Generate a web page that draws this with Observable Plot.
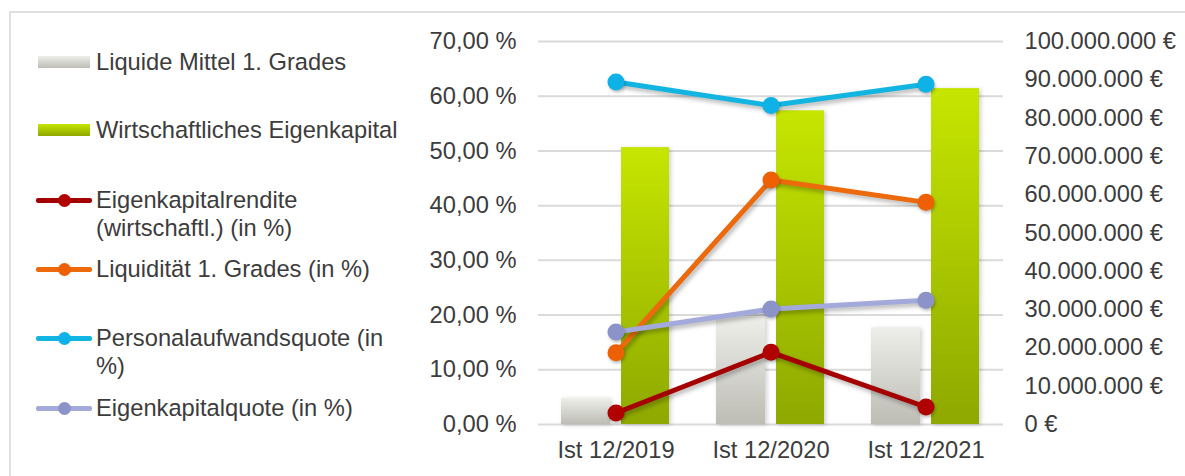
<!DOCTYPE html>
<html><head><meta charset="utf-8">
<script src="https://cdn.jsdelivr.net/npm/d3@7"></script>
<script src="https://cdn.jsdelivr.net/npm/@observablehq/plot@0.6"></script>
<style>
body{margin:0;background:#fff;}
#wrap{position:relative;width:1185px;height:476px;overflow:hidden;font-family:"Liberation Sans",Arial,sans-serif;}
#frame{position:absolute;left:9px;top:11px;width:1300px;height:600px;border-left:2px solid #e0e0e0;border-top:2px solid #e0e0e0;}
#chart{position:absolute;left:0;top:0;}
.item{position:absolute;left:96px;width:310px;font-size:23.7px;line-height:28px;color:#3c3c3c;}
.sw{position:absolute;}
svg g[aria-label="line"] path{filter:drop-shadow(2px 3px 2px rgba(0,0,0,0.28));}
svg g[aria-label="dot"] circle{filter:drop-shadow(1px 2px 1.5px rgba(0,0,0,0.25));}
svg g[aria-label="bar"] rect{filter:drop-shadow(2px 1px 2px rgba(0,0,0,0.18));}
</style></head>
<body><div id="wrap"><div id="frame"></div><div id="chart"></div><div id="legend"></div></div>
<script>
// ---- data ----
const categories = ["Ist 12/2019", "Ist 12/2020", "Ist 12/2021"];
const barSeries = ["Liquide Mittel 1. Grades", "Wirtschaftliches Eigenkapital"];
const liquideMittel = [6800000, 28000000, 25200000];
const wirtschEigenkapital = [72300000, 81900000, 87700000];
const lineSeries = ["Eigenkapitalrendite (wirtschaftl.) (in %)", "Liquidität 1. Grades (in %)", "Personalaufwandsquote (in %)", "Eigenkapitalquote (in %)"];
const ekRendite = [2.1, 13.2, 3.2];
const liquiditaet = [13.1, 44.7, 40.6];
const personalQuote = [62.6, 58.3, 62.2];
const ekQuote = [16.9, 21.1, 22.7];
const pctTicks = [0, 10, 20, 30, 40, 50, 60, 70];
const eurTicks = [0, 10000000, 20000000, 30000000, 40000000, 50000000, 60000000, 70000000, 80000000, 90000000, 100000000];

// ---- styles ----
const lineColors = ["#a50000", "#ec6a0c", "#12b4e2", "#a3a9db"];
const dotColors = ["#b00000", "#ee6004", "#0fb2e6", "#8c93c9"];
const pctMax = 70, eurMax = 100000000;
const toPct = v => v * pctMax / eurMax;
const FS = 23.7;

const loc = d3.formatLocale({decimal: ",", thousands: ".", grouping: [3], currency: ["", " €"]});
const fPct = d => loc.format(",.2f")(d) + " %";
const fEur = d => loc.format(",.0f")(Math.round(d * eurMax / pctMax)) + " €";

const barRows = s => categories.map((c, i) => ({cat: c, v: toPct(s[i])}));
const lineRows = s => categories.map((c, i) => ({cat: c, v: s[i]}));
const lineData = [ekRendite, liquiditaet, personalQuote, ekQuote];

const marks = [
  Plot.gridY(pctTicks, {stroke: "#dadada", strokeOpacity: 1, strokeWidth: 2}),
  Plot.barY(barRows(liquideMittel), {x: "cat", y: "v", fill: "url(#gGrey)", insetLeft: 23, insetRight: 83}),
  Plot.barY(barRows(wirtschEigenkapital), {x: "cat", y: "v", fill: "url(#gGreen)", insetLeft: 83, insetRight: 24}),
];
lineData.forEach((s, k) => {
  marks.push(Plot.line(lineRows(s), {x: "cat", y: "v", stroke: lineColors[k], strokeWidth: 5}));
  marks.push(Plot.dot(lineRows(s), {x: "cat", y: "v", r: 8.5, fill: dotColors[k], stroke: "none"}));
});
marks.push(
  Plot.axisY(pctTicks, {anchor: "left", tickSize: 0, tickPadding: 22, tickFormat: fPct, fontSize: FS, label: null}),
  Plot.axisY(eurTicks.map(toPct), {anchor: "right", tickSize: 0, tickPadding: 21, tickFormat: fEur, fontSize: FS, label: null}),
  Plot.axisX(categories, {tickSize: 0, tickPadding: 17, fontSize: FS, label: null})
);

const chart = Plot.plot({
  width: 1185, height: 476,
  marginLeft: 538, marginRight: 182, marginTop: 41, marginBottom: 52,
  style: {fontFamily: '"Liberation Sans", Arial, sans-serif', fontSize: FS + "px", color: "#3c3c3c", background: "transparent", overflow: "visible"},
  x: {type: "band", domain: categories, padding: 0, label: null, axis: null},
  y: {domain: [0, pctMax], label: null, axis: null},
  marks
});

const defs = d3.select(chart).insert("defs", ":first-child");
const g1 = defs.append("linearGradient").attr("id", "gGreen").attr("x1", 0).attr("y1", 0).attr("x2", 0).attr("y2", 1);
g1.append("stop").attr("offset", "0%").attr("stop-color", "#c6e600");
g1.append("stop").attr("offset", "100%").attr("stop-color", "#8ea800");
const g2 = defs.append("linearGradient").attr("id", "gGrey").attr("x1", 0).attr("y1", 0).attr("x2", 0).attr("y2", 1);
g2.append("stop").attr("offset", "0%").attr("stop-color", "#eeeeea");
g2.append("stop").attr("offset", "100%").attr("stop-color", "#bdbdb5");
document.getElementById("chart").appendChild(chart);

// ---- legend ----
const legend = document.getElementById("legend");
const legendTops = [48, 116, 186, 255, 324, 394];
const items = [
  {label: barSeries[0], kind: "bar", fill: "linear-gradient(#eeeeea,#bdbdb5)"},
  {label: barSeries[1], kind: "bar", fill: "linear-gradient(#c6e600,#8ea800)"},
  ...lineSeries.map((l, k) => ({label: l, kind: "line", color: lineColors[k], dot: dotColors[k]}))
];
items.forEach((it, i) => {
  const top = legendTops[i];
  const t = document.createElement("div");
  t.className = "item"; t.style.top = top + "px"; t.textContent = it.label;
  legend.appendChild(t);
  const cy = top + 14;
  if (it.kind === "bar") {
    const s = document.createElement("div");
    s.className = "sw";
    Object.assign(s.style, {left: "38px", top: (cy - 6) + "px", width: "52px", height: "12px", background: it.fill});
    legend.appendChild(s);
  } else {
    const s = document.createElement("div");
    s.className = "sw";
    Object.assign(s.style, {left: "36px", top: (cy - 2.5) + "px", width: "56px", height: "5px", background: it.color, borderRadius: "2px"});
    legend.appendChild(s);
    const d = document.createElement("div");
    d.className = "sw";
    Object.assign(d.style, {left: "57.5px", top: (cy - 6.5) + "px", width: "13px", height: "13px", background: it.dot, borderRadius: "50%"});
    legend.appendChild(d);
  }
});
</script>
</body></html>
